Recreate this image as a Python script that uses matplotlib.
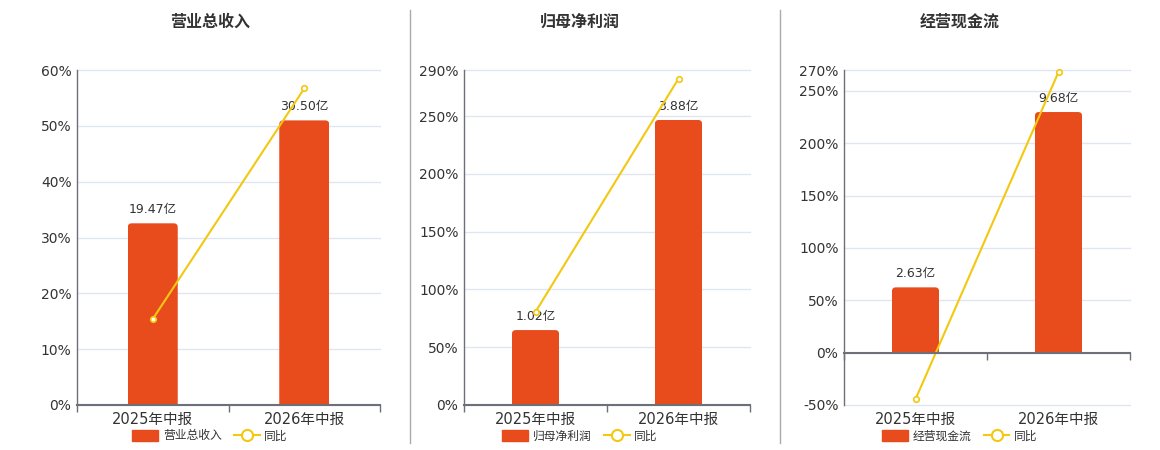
import matplotlib
matplotlib.use('Agg')
import matplotlib.pyplot as plt
from matplotlib.lines import Line2D
from matplotlib.patches import Patch, FancyBboxPatch

plt.rcParams['font.family'] = ['DejaVu Sans', 'Noto Sans CJK SC']

# data
periods = ['2025年中报', '2026年中报']
titles = ['营业总收入', '归母净利润', '经营现金流']
bar_values = [[19.47, 30.50], [1.02, 3.88], [2.63, 9.68]]   # 亿
yoy_values = [[15.4, 56.7], [80.6, 282.5], [-44.5, 268.0]]  # %
pct_ticks = [[0, 10, 20, 30, 40, 50, 60],
             [0, 50, 100, 150, 200, 250, 290],
             [-50, 0, 50, 100, 150, 200, 250, 270]]
bar_limits = [(0, 35.9), (0, 4.56), (-2.1, 11.37)]

BAR_COLOR = '#E84C1D'
LINE_COLOR = '#F2C811'
AXIS_COLOR = '#6E7079'
GRID_COLOR = '#E0E6F1'
TEXT_COLOR = '#333333'

W, H = 1160, 450
AX_H = 335
fig = plt.figure(figsize=(W / 100, H / 100), dpi=100)

axes_left = [77, 464, 844]
axes_width = [303, 286, 286]
centers = [210, 580, 960]


def round_tops(ax, bars, xlim, ylim, ax_w, ax_h, radius_px=4):
    # swap plain bars for ones with rounded top corners
    px_x = ax_w / (xlim[1] - xlim[0])
    px_y = ax_h / (ylim[1] - ylim[0])
    r = radius_px / px_x
    aspect = px_x / px_y
    for b in bars:
        x0, y0, w, h = b.get_x(), b.get_y(), b.get_width(), b.get_height()
        extra = radius_px / px_y
        fb = FancyBboxPatch((x0, y0 - extra), w, h + extra,
                            boxstyle=f'round,pad=0,rounding_size={r}',
                            mutation_aspect=aspect, facecolor=b.get_facecolor(),
                            edgecolor='none')
        ax.add_patch(fb)
        fb.set_clip_path(b)
        b.set_visible(False)


for i in range(3):
    rect = [axes_left[i] / W, 45 / H, axes_width[i] / W, AX_H / H]
    ax = fig.add_axes(rect, label=f'pct{i}')
    ax_bar = fig.add_axes(rect, label=f'bar{i}')
    ax_line = fig.add_axes(rect, label=f'line{i}')
    ax.set_zorder(0)
    ax_bar.set_zorder(1)
    ax_line.set_zorder(2)
    ax_bar.patch.set_visible(False)
    ax_line.patch.set_visible(False)

    x = list(range(len(periods)))
    xlim = (-0.5, len(periods) - 0.5)
    ticks = pct_ticks[i]

    # percent axis: grid + labels
    ax.set_xlim(*xlim)
    ax.set_ylim(ticks[0], ticks[-1])
    ax.set_yticks(ticks)
    ax.set_yticklabels([f'{t}%' for t in ticks])
    ax.tick_params(axis='y', length=0, labelsize=10, colors=TEXT_COLOR, pad=4)
    ax.set_xticks(x)
    ax.set_xticklabels(periods)
    ax.tick_params(axis='x', length=0, labelsize=10.5, colors=TEXT_COLOR, pad=5)
    ax.grid(axis='y', color=GRID_COLOR, linewidth=1)
    for gl in ax.get_ygridlines():
        gl.set_clip_on(False)
    for s in ['top', 'right', 'bottom']:
        ax.spines[s].set_visible(False)
    ax.spines['left'].set_color(AXIS_COLOR)
    ax.spines['left'].set_linewidth(1)

    # bars on hidden axis
    bars = ax_bar.bar(x, bar_values[i], width=0.33, color=BAR_COLOR)
    ax_bar.set_xlim(*xlim)
    ax_bar.set_ylim(*bar_limits[i])
    ax_bar.axis('off')
    round_tops(ax_bar, bars, xlim, bar_limits[i], axes_width[i], AX_H)
    for xi, v in zip(x, bar_values[i]):
        ax_bar.annotate(f'{v:.2f}亿', (xi, v), xytext=(0, 5), textcoords='offset points',
                        ha='center', va='bottom', fontsize=9, color=TEXT_COLOR)

    # yoy line, same scale as percent axis
    ax_line.plot(x, yoy_values[i], color=LINE_COLOR, linewidth=1.5, marker='o',
                 markersize=4, markerfacecolor='white', markeredgecolor=LINE_COLOR,
                 markeredgewidth=1.2, clip_on=False)
    ax_line.set_xlim(*xlim)
    ax_line.set_ylim(ticks[0], ticks[-1])
    ax_line.set_yticks([])
    for s in ['top', 'right', 'left']:
        ax_line.spines[s].set_visible(False)
    ax_line.spines['bottom'].set_position(('data', 0))
    ax_line.spines['bottom'].set_color(AXIS_COLOR)
    ax_line.spines['bottom'].set_linewidth(1.5)
    ax_line.set_xticks([-0.5, 0.5, 1.5])
    ax_line.set_xticklabels([])
    ax_line.tick_params(axis='x', length=5, width=1, color=AXIS_COLOR, direction='out')

    fig.text(centers[i] / W, 1 - 22 / H, titles[i], ha='center', va='center',
             fontsize=11.5, fontweight='bold', color=TEXT_COLOR)

    handles = [Patch(facecolor=BAR_COLOR, edgecolor=BAR_COLOR, label=titles[i]),
               Line2D([], [], color=LINE_COLOR, linewidth=1.5, marker='o', markersize=8,
                      markerfacecolor='white', markeredgewidth=1.5, label='同比')]
    fig.legend(handles=handles, loc='center', bbox_to_anchor=(centers[i] / W, 1 - 436 / H),
               ncol=2, frameon=False, fontsize=8.5, handlelength=2.2, handleheight=1.1,
               columnspacing=1.0, handletextpad=0.4, labelcolor=TEXT_COLOR)

# separators between panels
for xs in [410, 780]:
    fig.add_artist(Line2D([xs / W, xs / W], [1 - 443 / H, 1 - 10 / H],
                          color='#AAAAAA', linewidth=1))

fig.savefig('out.png', dpi=100)
